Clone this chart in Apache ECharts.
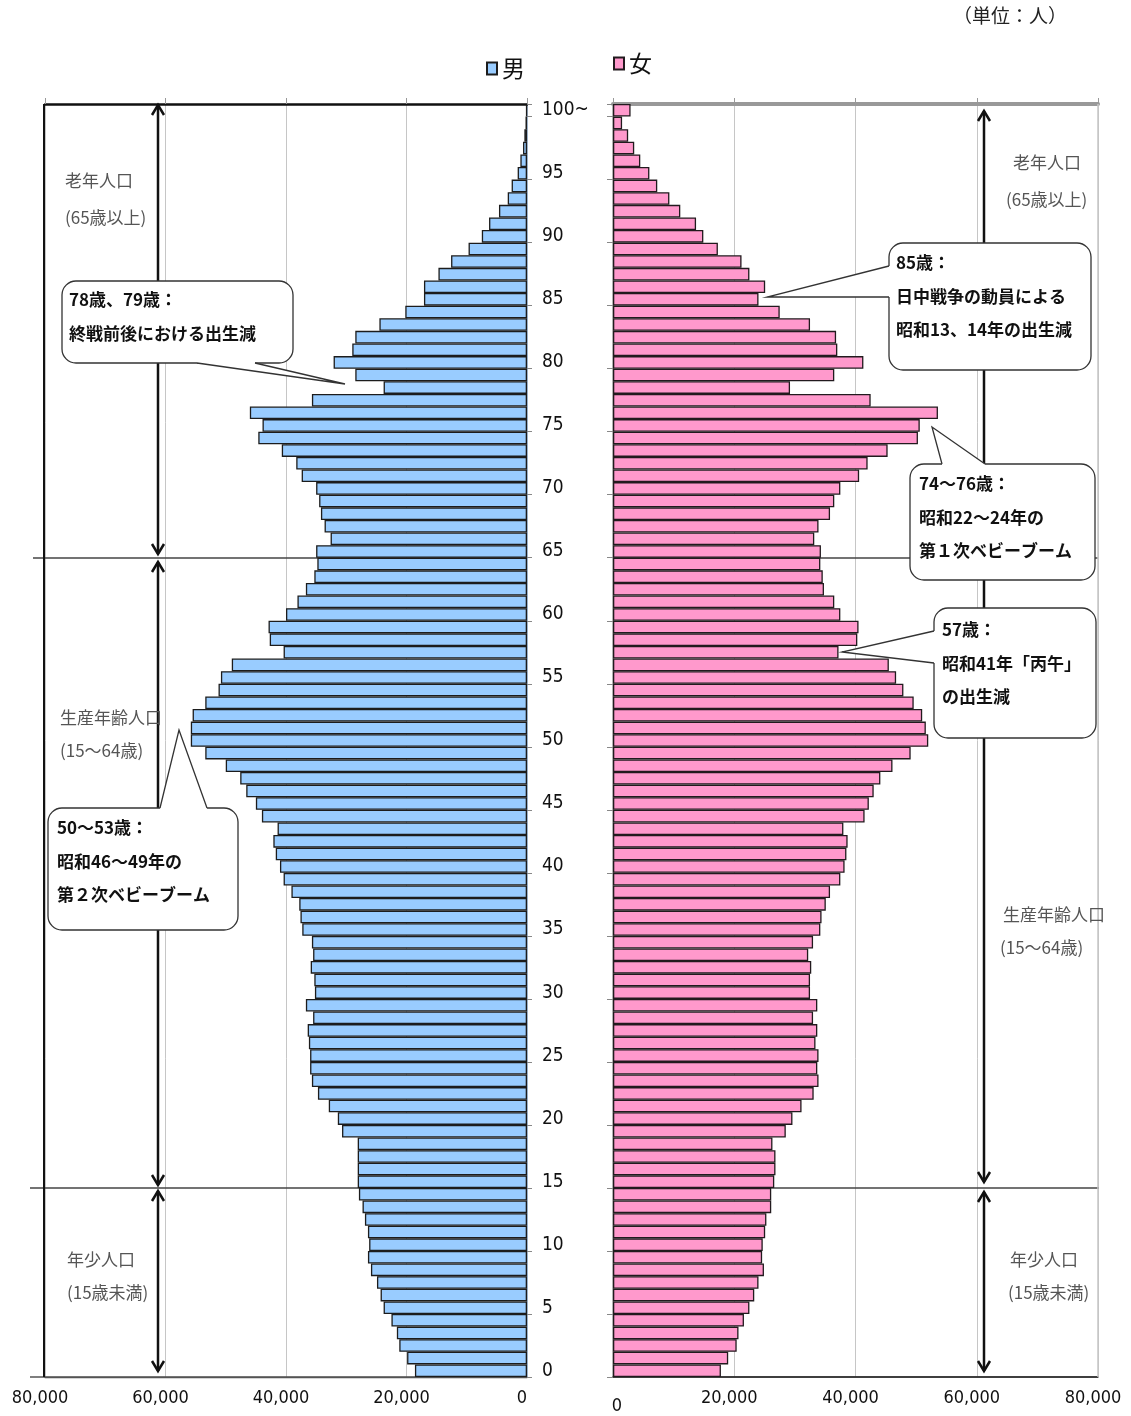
<!DOCTYPE html>
<html><head><meta charset="utf-8">
<script src="https://cdn.jsdelivr.net/npm/echarts@6/dist/echarts.min.js"></script>
<style>html,body{margin:0;padding:0;background:#fff}#c{width:1131px;height:1416px}</style>
</head><body><div id="c"></div>
<script>
// ---- data (ages 0 .. 100+) ----
const ageLabels = [];
for (let a = 0; a <= 100; a++) ageLabels.push(a === 100 ? '100~' : String(a));

const maleValues = [
  18600,19900,21200,21600,22500,23800,24300,24900,25900,26400,
  26200,26400,26900,27300,27900,28100,28100,28100,28100,30700,
  31400,32900,34700,35700,36000,36000,36200,36400,35500,36700,
  35200,35300,35900,35500,35700,37300,37600,37800,39100,40400,
  41000,41700,42100,41400,44000,45000,46600,47600,50000,53400,
  55800,55800,55500,53400,51200,50800,49000,40400,42700,42900,
  40000,38100,36700,35300,34800,35000,32600,33600,34200,34500,
  35000,37400,38300,40700,44600,43900,46000,35700,23800,28500,
  32100,29000,28500,24500,20200,17100,17100,14700,12600,9700,
  7500,6300,4650,3200,2550,1550,1100,660,440,250,
  150
];
const femaleValues = [
  17800,19000,20400,20700,21600,22500,23300,24000,24900,24600,
  24700,25100,25300,26100,26100,26600,26800,26800,26300,28500,
  29600,31100,33100,33900,33700,33900,33400,33700,33000,33700,
  32500,32500,32700,32200,33000,34200,34400,35100,35800,37500,
  38200,38500,38700,38000,41500,42200,43000,44100,46100,49100,
  52000,51600,51000,49600,47900,46700,45500,37200,40300,40500,
  37500,36500,34800,34600,34200,34300,33200,33900,35800,36500,
  37500,40600,42000,45300,50300,50600,53600,42500,29200,36500,
  41300,37000,36800,32500,27500,24000,25100,22500,21200,17300,
  14900,13700,11100,9300,7300,6000,4500,3500,2500,1500,
  2900
];
const xTickValues = [0, 20000, 40000, 60000, 80000];
const seriesNames = ['男', '女'];

// ---- styling ----
const FONT_NUM = "'Liberation Sans Narrow','DejaVu Sans Condensed','Noto Sans CJK JP',sans-serif";
const FONT_JP = "'Noto Sans CJK JP','Noto Sans CJK SC',sans-serif";
const fmtNum = v => String(v).replace(/\B(?=(\d{3})+(?!\d))/g, ',');
const X_MAX = xTickValues[xTickValues.length - 1];
const X_INT = xTickValues[1] - xTickValues[0];

function xAx(grid, pos, inverse, lineColor, lineWidth) {
  const top = pos === 'top';
  const rightSide = grid === 1;
  return {
    gridIndex: grid, type: 'value', position: pos, inverse: inverse,
    min: 0, max: X_MAX, interval: X_INT,
    axisLine: { show: true, onZero: false, lineStyle: { color: lineColor, width: lineWidth } },
    axisTick: { show: top, length: 6, lineStyle: { color: '#999' } },
    axisLabel: { show: !top, fontSize: 18, color: '#111', margin: 12, fontFamily: FONT_NUM,
      formatter: v => (rightSide && v === 0) ? '{z|0}' : '{n|' + fmtNum(v) + '}',
      rich: { n: { fontSize: 18, fontFamily: FONT_NUM, color: '#111', padding: [0, 10, 0, 0] },
              z: { fontSize: 18, fontFamily: FONT_NUM, color: '#111', padding: [8, 0, 0, 8] } } },
    splitLine: { show: !top, lineStyle: { color: '#c6c6c6', width: 1 } }
  };
}

const chart = echarts.init(document.getElementById('c'), null, { renderer: 'canvas' });

const G = [];
function text(x, y, t, opt) {
  opt = opt || {};
  G.push({ type: 'text', x: x, y: y, z: 30, style: {
    text: t, fontSize: opt.size || 17, fontFamily: FONT_JP, fontWeight: opt.bold ? 'bold' : 'normal',
    fill: opt.color || '#111', align: 'left', verticalAlign: 'middle' } });
}
function line(x1, y1, x2, y2, color, w, z) {
  G.push({ type: 'line', z: z || 1, shape: { x1, y1, x2, y2 }, style: { stroke: color, lineWidth: w } });
}
function arrow(x, y1, y2) {
  line(x, y1 + 1, x, y2 - 1, '#111', 2.5, 5);
  G.push({ type: 'polyline', z: 5, shape: { points: [[x - 6, y1 + 11], [x, y1 + 1], [x + 6, y1 + 11]] }, style: { stroke: '#111', lineWidth: 2.5, fill: null } });
  G.push({ type: 'polyline', z: 5, shape: { points: [[x - 6, y2 - 11], [x, y2 - 1], [x + 6, y2 - 11]] }, style: { stroke: '#111', lineWidth: 2.5, fill: null } });
}
function callout(box, b1, b2, tip, inward, lines, tx, ty0) {
  G.push({ type: 'rect', z: 20, shape: { x: box[0], y: box[1], width: box[2], height: box[3], r: 14 },
    style: { fill: '#fff', stroke: '#333', lineWidth: 1.3 } });
  const d = 3;
  G.push({ type: 'polygon', z: 21, shape: { points: [b1, tip, b2, [b2[0] + inward[0] * d, b2[1] + inward[1] * d], [b1[0] + inward[0] * d, b1[1] + inward[1] * d]] },
    style: { fill: '#fff', stroke: null } });
  G.push({ type: 'polyline', z: 22, shape: { points: [b1, tip, b2] }, style: { stroke: '#333', lineWidth: 1.3, fill: null } });
  lines.forEach((t, i) => text(tx, ty0 + i * 33.5, t, { bold: true }));
}

// frame / separators
line(44, 104, 44, 1377, '#111', 2, 3);
line(33, 558, 527, 558, '#444', 1.3, 1);
line(613, 558, 1098, 558, '#444', 1.3, 1);
line(30, 1188, 527, 1188, '#444', 1.3, 1);
line(613, 1188, 1099, 1188, '#444', 1.3, 1);
line(30, 1377, 527, 1377, '#555', 1.3, 1);
line(613, 1377, 1098, 1377, '#333', 1.5, 1);
line(1098, 104, 1098, 1377, '#c6c6c6', 1.5, 1);

// arrows
arrow(158, 104, 555);
arrow(158, 561, 1186);
arrow(158, 1190, 1372);
arrow(984, 110, 1183);
arrow(984, 1191, 1372);

// group labels
const GC = '#555';
text(65, 181, '老年人口', { color: GC }); text(65, 218, '(65歳以上)', { color: GC });
text(60, 718, '生産年齢人口', { color: GC }); text(60, 751, '(15～64歳)', { color: GC });
text(67, 1260, '年少人口', { color: GC }); text(67, 1293, '(15歳未満)', { color: GC });
text(1013, 163, '老年人口', { color: GC }); text(1006, 200, '(65歳以上)', { color: GC });
text(1003, 915, '生産年齢人口', { color: GC }); text(1000, 948, '(15～64歳)', { color: GC });
text(1010, 1260, '年少人口', { color: GC }); text(1008, 1293, '(15歳未満)', { color: GC });

// unit
text(953, 16, '（単位：人）', { size: 19, color: '#222' });

// callouts
callout([62, 281, 231, 82], [197, 363], [255, 363], [345, 384], [0, -1],
  ['78歳、79歳：', '終戦前後における出生減'], 69, 300);
callout([889, 243, 202, 127], [889, 266], [889, 297], [767, 297], [1, 0],
  ['85歳：', '日中戦争の動員による', '昭和13、14年の出生減'], 896, 263);
callout([910, 464, 185, 116], [942, 464], [985, 464], [932, 427], [0, 1],
  ['74～76歳：', '昭和22～24年の', '第１次ベビーブーム'], 919, 484);
callout([934, 608, 162, 130], [934, 631], [934, 663], [842, 652], [1, 0],
  ['57歳：', '昭和41年「丙午」', 'の出生減'], 942, 630);
callout([48, 808, 190, 122], [160, 808], [207, 808], [179, 730], [0, 1],
  ['50～53歳：', '昭和46～49年の', '第２次ベビーブーム'], 57, 828);

const option = {
  animation: false,
  backgroundColor: '#fff',
  legend: [
    { data: [seriesNames[0]], left: 481, top: 52, icon: 'rect', itemWidth: 10, itemHeight: 12,
      textStyle: { fontSize: 23, fontFamily: FONT_JP, color: '#111' } },
    { data: [seriesNames[1]], left: 608, top: 47, icon: 'rect', itemWidth: 10, itemHeight: 12,
      textStyle: { fontSize: 23, fontFamily: FONT_JP, color: '#111' } }
  ],
  grid: [
    { left: 45, right: 604, top: 104, bottom: 39 },
    { left: 613, right: 33, top: 104, bottom: 39 }
  ],
  xAxis: [
    xAx(0, 'bottom', true, '#555', 1.3),
    xAx(0, 'top', true, '#111', 2.5),
    xAx(1, 'bottom', false, '#333', 1.5),
    xAx(1, 'top', false, '#999', 4)
  ],
  yAxis: [
    { gridIndex: 0, type: 'category', data: ageLabels, position: 'right',
      axisLine: { show: true, onZero: false, lineStyle: { color: '#8ea8c6', width: 1.5 } },
      axisTick: { show: true, interval: 4, length: 5, lineStyle: { color: '#888' } },
      axisLabel: { interval: 4, margin: 15, fontSize: 19, color: '#111', fontFamily: FONT_NUM },
      splitLine: { show: false } },
    { gridIndex: 1, type: 'category', data: ageLabels, position: 'left',
      axisLine: { show: true, onZero: false, lineStyle: { color: '#999', width: 1.5 } },
      axisTick: { show: true, interval: 4, length: 6, lineStyle: { color: '#888' } },
      axisLabel: { show: false }, splitLine: { show: false } }
  ],
  series: [
    { type: 'bar', name: seriesNames[0], xAxisIndex: 0, yAxisIndex: 0, data: maleValues,
      barCategoryGap: '0%', z: 2,
      itemStyle: { color: '#99CCFF', borderColor: '#1c1c1c', borderWidth: 1.3 } },
    { type: 'bar', name: seriesNames[1], xAxisIndex: 2, yAxisIndex: 1, data: femaleValues,
      barCategoryGap: '0%', z: 2,
      itemStyle: { color: '#FF99CC', borderColor: '#221a1e', borderWidth: 1.3 } }
  ],
  graphic: { elements: G }
};
chart.setOption(option);
</script></body></html>
